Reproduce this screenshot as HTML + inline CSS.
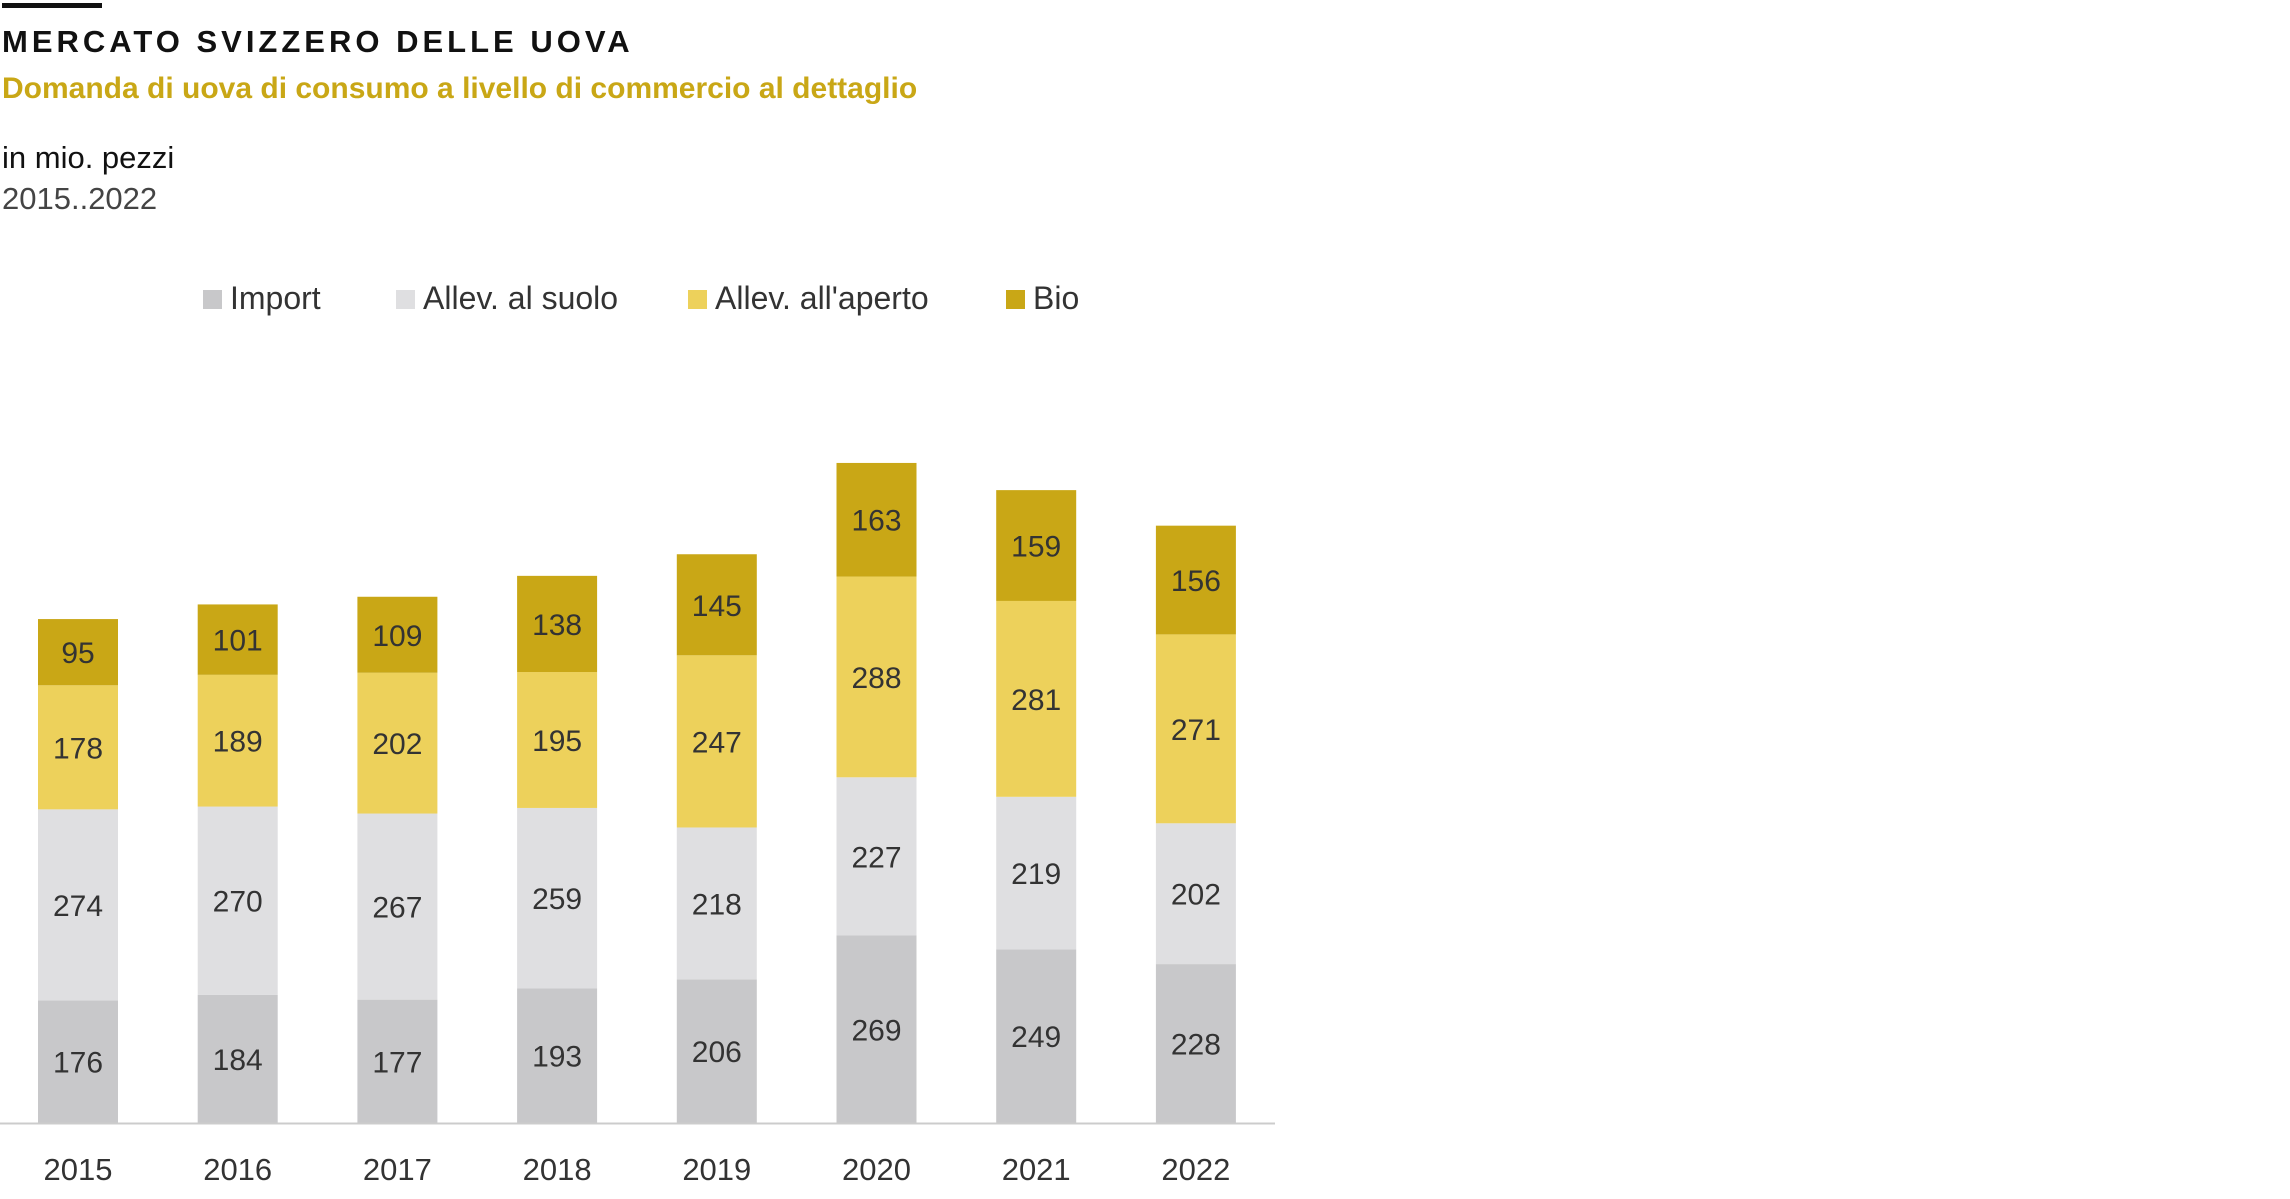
<!DOCTYPE html>
<html><head><meta charset="utf-8"><style>
body{margin:0;background:#fff;width:2290px;height:1199px;overflow:hidden;font-family:"Liberation Sans","DejaVu Sans",sans-serif}
.t{position:absolute;left:2px;white-space:nowrap}
</style></head><body>
<div style="position:absolute;left:2px;top:3px;width:100px;height:5px;background:#111"></div>
<div class="t" style="top:24px;font-size:31px;font-weight:bold;letter-spacing:4px;color:#111">MERCATO SVIZZERO DELLE UOVA</div>
<div class="t" style="top:72px;font-size:30px;font-weight:bold;color:#c9a716">Domanda di uova di consumo a livello di commercio al dettaglio</div>
<div class="t" style="top:140px;font-size:31px;color:#111">in mio. pezzi</div>
<div class="t" style="top:181px;font-size:31px;color:#444">2015..2022</div>
<svg id="chart" width="2290" height="1199" style="position:absolute;left:0;top:0"></svg>
<script>
const years=["2015","2016","2017","2018","2019","2020","2021","2022"];
const importV=[176,184,177,193,206,269,249,228];
const suoloV=[274,270,267,259,218,227,219,202];
const apertoV=[178,189,202,195,247,288,281,271];
const bioV=[95,101,109,138,145,163,159,156];
const seriesNames=["Import","Allev. al suolo","Allev. all'aperto","Bio"];
const colors=["#c8c8ca","#dfdfe1","#edd15b","#c9a716"];
const series=[importV,suoloV,apertoV,bioV];
const NS="http://www.w3.org/2000/svg";
const svg=document.getElementById("chart");
const base=1123, k=0.697, x0=38, step=159.7, bw=80;
const y=v=>base-v*k;
const xb=i=>x0+i*step;
function el(t,a){const e=document.createElementNS(NS,t);for(const n in a)e.setAttribute(n,a[n]);svg.appendChild(e);return e;}
// legend
const lx=[203,396,688,1006];
seriesNames.forEach((n,i)=>{
 const r=el("rect",{x:lx[i],y:290,width:19,height:19,fill:colors[i]});
 
 
 const t=el("text",{x:lx[i]+27,y:309,"font-size":32,fill:"#333"});t.textContent=n;
 
 
});
years.forEach((yr,i)=>{
 let cum=0;
 series.forEach((s,j)=>{
  const v=s[i];
  const r=el("rect",{x:xb(i),y:y(cum+v),width:bw,height:v*k,fill:colors[j]});
  
  
  const t=el("text",{x:xb(i)+bw/2,y:y(cum+v/2)+11,"font-size":30,fill:"#333","text-anchor":"middle"});
  t.textContent=v;
  
  
  cum+=v;
 });
 const t=el("text",{x:xb(i)+bw/2,y:1180,"font-size":31,fill:"#333","text-anchor":"middle"});
 t.textContent=yr;
 
 
});
const ax=el("line",{x1:0,x2:1275,y1:base+0.5,y2:base+0.5,stroke:"#ccc","stroke-width":2});


</script>
</body></html>
